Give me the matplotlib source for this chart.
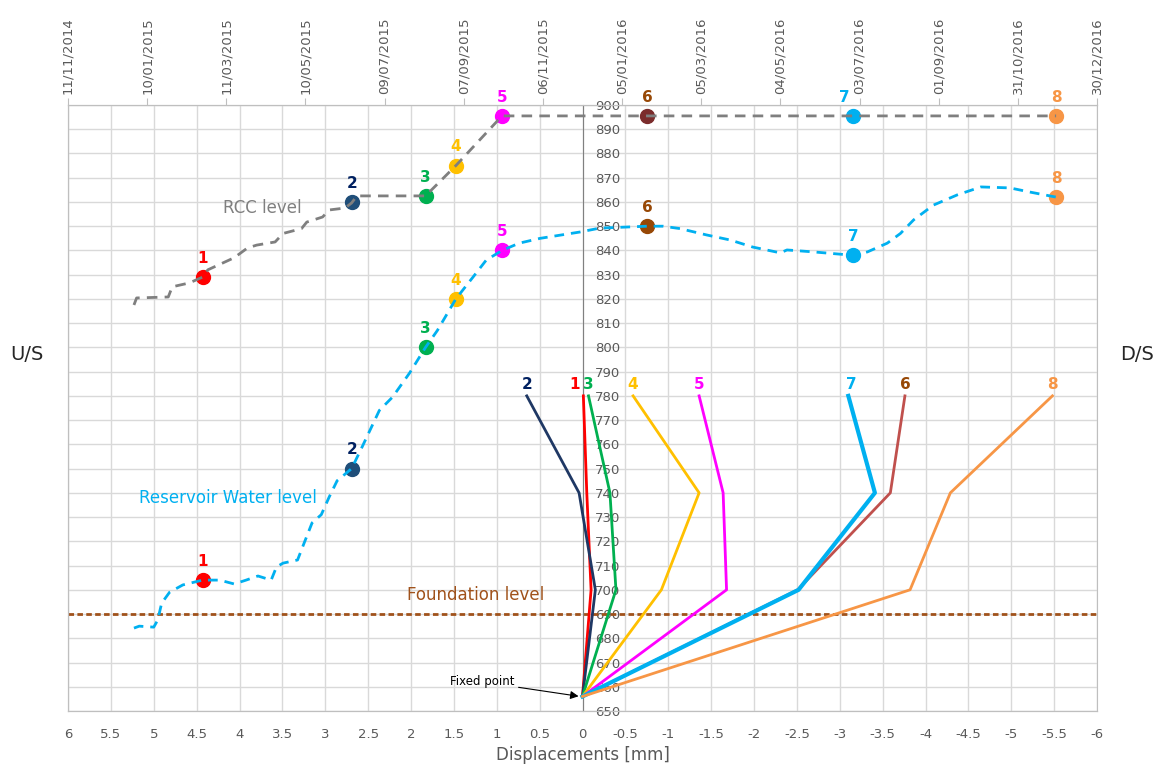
import matplotlib
matplotlib.use('Agg')
from matplotlib import pyplot as plt
from matplotlib.ticker import FuncFormatter
import matplotlib.dates as mdates
import numpy as np
import pandas as pd

# displacement profiles: elevation [m] vs displacement [mm]
elev = [656, 700, 740, 780]
stages = ['1', '2', '3', '4', '5', '6', '7', '8']
disp = {
    '1': [0, -0.10, -0.05, -0.01],
    '2': [0, -0.15, 0.04, 0.65],
    '3': [0, -0.39, -0.32, -0.07],
    '4': [0, -0.92, -1.36, -0.59],
    '5': [0, -1.68, -1.64, -1.36],
    '6': [0, -2.51, -3.59, -3.76],
    '7': [0, -2.52, -3.41, -3.10],
    '8': [0, -3.82, -4.29, -5.48],
}

# dates of the readings and levels at those dates
stage_dates = ['2015-02-21', '2015-06-14', '2015-08-09', '2015-09-01',
               '2015-10-06', '2016-01-24', '2016-06-28', '2016-11-29']
rcc_stage = [829, 860, 862.5, 875, 895.5, 895.5, 895.5, 895.5]
water_stage = [704, 750, 800, 820, 840, 850, 838, 862]

# RCC placement level
rcc_dates = ['2014-12-31', '2015-01-02', '2015-01-26', '2015-01-29', '2015-02-11',
             '2015-02-21', '2015-02-25', '2015-03-17', '2015-03-27', '2015-04-03',
             '2015-04-17', '2015-04-23', '2015-05-07', '2015-05-11', '2015-05-23',
             '2015-05-28', '2015-06-09', '2015-06-14', '2015-06-18', '2015-08-09',
             '2015-09-01', '2015-10-06', '2016-11-29']
rcc_level = [817.5, 820.4, 820.8, 825, 826.6,
             829, 832, 837, 841, 842.2,
             843.5, 847, 849, 851.7, 853.8,
             856.7, 857.5, 859.6, 862.5, 862.5,
             875, 895.5, 895.5]

# reservoir water level
water_dates = ['2014-12-31', '2015-01-04', '2015-01-15', '2015-01-18', '2015-01-21',
               '2015-01-27', '2015-02-06', '2015-02-21', '2015-03-06', '2015-03-17',
               '2015-03-26', '2015-04-04', '2015-04-14', '2015-04-18', '2015-04-23',
               '2015-05-04', '2015-05-09', '2015-05-15', '2015-05-22', '2015-05-28',
               '2015-06-03', '2015-06-14', '2015-06-22', '2015-07-05', '2015-07-15',
               '2015-07-28', '2015-08-09', '2015-08-18', '2015-09-01', '2015-09-14',
               '2015-09-24', '2015-10-06', '2015-10-19', '2015-11-04', '2015-12-04',
               '2015-12-19', '2016-01-24', '2016-02-05', '2016-02-18', '2016-03-09',
               '2016-03-27', '2016-04-13', '2016-05-04', '2016-05-09', '2016-05-29',
               '2016-06-28', '2016-07-09', '2016-07-24', '2016-08-03', '2016-08-13',
               '2016-08-28', '2016-09-15', '2016-10-03', '2016-10-25', '2016-11-09',
               '2016-11-29']
water_level = [684.2, 685, 684.6, 687.5, 694.5,
               699, 702, 704, 704, 702.4,
               704, 705.7, 704, 709.4, 711,
               712.3, 719.3, 727.6, 731, 738.3,
               745, 750, 759, 774, 779.5,
               789.5, 800, 807, 820, 829,
               836, 840, 843, 845, 847.6,
               849.2, 850, 850, 849, 846.4,
               844.3, 841.4, 839, 840.2, 839.4,
               838, 839.4, 843, 847, 852.6,
               858.7, 862.9, 866.2, 865.8, 864.1,
               862]

foundation = 690

line_col = {'1': '#FF0000', '2': '#1F3864', '3': '#00B050', '4': '#FFC000',
            '5': '#FF00FF', '6': '#C0504D', '7': '#00B0F0', '8': '#F79646'}
text_col = {'1': '#FF0000', '2': '#002060', '3': '#00B050', '4': '#FFC000',
            '5': '#FF00FF', '6': '#974806', '7': '#00B0F0', '8': '#F79646'}
mark_col = {'1': '#FF0000', '2': '#1F4E79', '3': '#00B050', '4': '#FFC000',
            '5': '#FF00FF', '6': '#974806', '7': '#00B0F0', '8': '#F79646'}
tick_col = '#595959'
grid_col = '#D9D9D9'
frame_col = '#BFBFBF'

fig = plt.figure(figsize=(11.53, 7.64), dpi=100)
ax = fig.add_axes([68 / 1153, 53 / 764, 1029 / 1153, 606 / 764])

ax.set_xlim(6, -6)
ax.set_ylim(650, 900)
ax.set_xticks(np.arange(-6, 6.01, 0.5))
ax.set_yticks(np.arange(650, 901, 10))
ax.xaxis.set_major_formatter(FuncFormatter(lambda v, p: '%g' % v))
ax.grid(True, color=grid_col, lw=1)
ax.set_axisbelow(True)

ax.spines['right'].set_position(('data', 0))
ax.spines['right'].set_color('#808080')
for s in ['left', 'top', 'bottom']:
    ax.spines[s].set_color(frame_col)
ax.yaxis.tick_right()
ax.tick_params(axis='y', length=0, pad=9, labelsize=9.5, labelcolor=tick_col)
ax.tick_params(axis='x', length=0, pad=12, labelsize=9.5, labelcolor=tick_col)
ax.set_xlabel('Displacements [mm]', fontsize=12, color=tick_col, labelpad=4)

# foundation level
ax.axhline(foundation, color='#A0521B', lw=2, ls=(0, (2, 1.2)))
ax.text(1.25, foundation + 8, 'Foundation level', color='#A0521B', fontsize=12,
        ha='center', va='center')

# displacement profiles
nudge = {'1': -6, '7': 2}
for s in stages:
    lw = 3 if s == '7' else 2
    ax.plot(disp[s], elev, color=line_col[s], lw=lw, zorder=3)
    ax.annotate(s, (disp[s][-1], elev[-1]), xytext=(nudge.get(s, 0), 3),
                textcoords='offset points', ha='center', va='bottom',
                color=text_col[s], fontsize=11, fontweight='bold')

ax.annotate('Fixed point', xy=(0.03, elev[0]), xytext=(1.17, 662),
            fontsize=8.5, color='black', ha='center', va='center',
            arrowprops=dict(arrowstyle='-|>', color='black', lw=0.8,
                            mutation_scale=12, shrinkA=1, shrinkB=1))

# top date axis
ax2 = ax.twiny()
ax2.set_xlim(pd.Timestamp('2014-11-11'), pd.Timestamp('2016-12-30'))
ax2.set_xticks(pd.date_range('2014-11-11', '2016-12-30', freq='60D'))
ax2.xaxis.set_major_formatter(mdates.DateFormatter('%d/%m/%Y'))
ax2.tick_params(axis='x', direction='out', length=5, color=frame_col,
                labelsize=9.5, labelcolor=tick_col, labelrotation=90, pad=3)
for s in ['left', 'top', 'bottom', 'right']:
    ax2.spines[s].set_color(frame_col)

rd = pd.to_datetime(rcc_dates)
wd = pd.to_datetime(water_dates)
sd = pd.to_datetime(stage_dates)

ax2.plot(rd, rcc_level, color='#7F7F7F', lw=2, ls=(0, (3.8, 2.6)), zorder=4)
ax2.plot(wd, water_level, color='#00B0F0', lw=2, ls=(0, (3.5, 2.5)), zorder=4)

for i, s in enumerate(stages):
    rc = '#7B2C2C' if s == '6' else mark_col[s]
    ax2.plot(sd[i], rcc_stage[i], 'o', ms=10, color=rc, zorder=3)
    ax2.plot(sd[i], water_stage[i], 'o', ms=10, color=mark_col[s], zorder=3)
    dx_top = -6 if s == '7' else 0
    for lev, dx in ((rcc_stage[i], dx_top), (water_stage[i], 0)):
        ax2.annotate(s, (sd[i], lev), xytext=(dx, 8), textcoords='offset points',
                     ha='center', va='bottom', color=text_col[s],
                     fontsize=11, fontweight='bold')

ax.text(3.73, 857.5, 'RCC level', color='#7F7F7F', fontsize=12,
        ha='center', va='center')
ax.text(4.14, 738, 'Reservoir Water level', color='#00B0F0', fontsize=12,
        ha='center', va='center')

fig.text(27 / 1153, 1 - 355 / 764, 'U/S', fontsize=14, color='#262626',
         ha='center', va='center')
fig.text(1137 / 1153, 1 - 355 / 764, 'D/S', fontsize=14, color='#262626',
         ha='center', va='center')

plt.savefig('out.png', dpi=100)
plt.close()
